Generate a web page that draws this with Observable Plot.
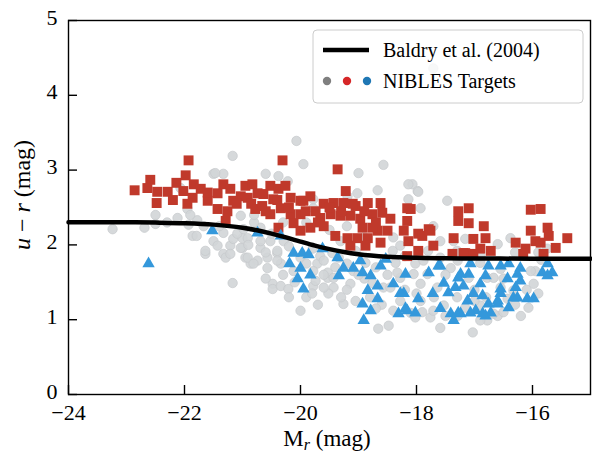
<!DOCTYPE html>
<html>
<head>
<meta charset="utf-8">
<script src="https://cdn.jsdelivr.net/npm/d3@7"></script>
<script src="https://cdn.jsdelivr.net/npm/@observablehq/plot@0.6"></script>
<style>
  html, body { margin: 0; padding: 0; background: white; }
</style>
</head>
<body>
<div id="chart"></div>
<script>
// ---- data ----
const xTicks = [-24, -22, -20, -18, -16];
const yTicks = [0, 1, 2, 3, 4, 5];

// Baldry et al. (2004) dividing line
const baldryM  = [-24, -23, -22.5, -22, -21.5, -21, -20.75, -20.5, -20.25, -20, -19.75, -19.5, -19.25, -19, -18.5, -18, -17.5, -17, -16, -15];
const baldryUR = [2.304, 2.302, 2.298, 2.290, 2.271, 2.229, 2.195, 2.151, 2.100, 2.044, 1.990, 1.943, 1.905, 1.876, 1.842, 1.827, 1.820, 1.818, 1.816, 1.816];

// all galaxies (grey circles)
const grayX = [-23.24,-22.69,-22.50,-22.50,-22.12,-21.95,-21.93,-21.86,-21.79,-21.78,-21.64,-21.50,-21.33,-21.17,-21.50,-21.43,-21.33,-21.29,-21.21,-21.17,
  -21.16,-21.00,-21.00,-20.95,-20.86,-20.74,-20.69,-20.60,-20.57,-20.57,-20.48,-20.48,-20.40,-20.34,-20.34,-20.22,-20.21,-20.12,-20.07,-19.95,
  -20.00,-19.78,-19.71,-19.78,-19.78,-22.07,-20.69,-21.03,-19.00,-18.57,-18.07,-17.98,-18.67,-19.02,-19.19,-17.47,-18.14,-17.93,-17.71,-19.78,
  -19.53,-19.43,-19.52,-19.26,-19.05,-18.66,-18.48,-17.59,-17.03,-16.78,-16.60,-16.07,-15.98,-15.95,-16.38,-16.60,-17.36,-18.40,-18.10,-17.93,
  -18.28,-18.02,-17.81,-19.66,-19.34,-19.09,-18.76,-18.57,-20.00,-19.45,-19.79,-16.55,-16.33,-16.78,-17.59,-17.29,-17.10,-17.53,-17.16,-16.90,
  -17.76,-17.29,-16.43,-16.03,-21.47,-20.38,-21.64,-21.21,-21.03,-20.91,-20.81,-20.40,-21.09,-20.91,-20.69,-20.52,-20.29,-20.40,-20.98,-21.33,
  -21.67,-18.14,-19.60,-19.74,-19.14,-19.53,-19.60,-19.43,-18.33,-18.45,-18.28,-18.41,-18.28,-17.97,-17.16,-18.02,-17.71,-16.90,-16.67,-18.05,
  -17.93,-17.88,-17.64,-17.41,-16.67,-16.55,-19.31,-19.05,-18.88,-18.36,-17.59,-16.90,-17.71,-20.80,-20.50,-20.20,-19.90,-19.60,-19.20,-18.90,
  -18.70,-18.20,-17.80,-17.30,-16.90,-16.30,-15.85,-15.75,
  -20.90,-20.60,-20.30,-20.10,-19.90,-19.70,-19.40,-19.20,-19.00,-18.80,-18.60,-18.50,-18.20,-17.90,-17.70,-17.50,-17.30,-17.00,-16.80,-16.50,
  -16.30,-16.10,-15.90,-21.40,-21.90,-22.30,
  -20.80,-20.30,-19.90,-19.50,-19.20,-18.90,-18.40,-20.60,-20.20,-19.80,-19.30,-18.70,-18.00,-17.50,-17.00,-16.50,-16.20,-15.90];
const grayY = [2.21,2.23,2.40,2.28,2.36,2.48,2.27,2.12,2.12,2.33,1.88,2.95,2.95,3.19,2.05,1.99,1.88,1.83,1.99,1.49,
  2.08,2.09,1.96,1.83,1.75,1.79,1.96,2.95,1.83,1.69,1.48,1.41,1.89,1.45,1.75,2.85,1.41,1.65,3.39,3.08,
  1.12,1.45,1.75,2.49,2.61,2.76,2.23,2.39,2.96,3.07,2.81,2.72,2.73,2.69,2.65,2.59,2.61,2.49,2.25,1.65,
  1.56,1.43,1.35,1.21,1.25,0.88,0.92,0.89,0.83,0.99,1.05,1.16,1.48,1.65,2.09,2.01,2.05,1.12,1.09,1.25,
  1.56,1.75,1.61,1.85,1.83,1.65,1.49,1.43,1.83,1.89,1.95,1.68,1.39,1.56,1.83,1.79,1.56,1.19,1.16,1.19,
  1.03,1.05,1.28,1.65,2.96,2.92,1.92,1.88,1.96,1.83,1.75,1.79,2.15,2.09,2.05,2.05,2.05,1.92,2.21,2.16,
  2.25,2.81,1.43,1.52,1.48,1.63,1.79,1.56,1.63,1.43,1.25,1.92,1.99,2.71,2.08,1.03,1.12,0.99,1.08,1.61,
  1.48,1.79,1.43,1.69,1.56,1.43,2.05,1.92,1.76,1.76,2.05,1.76,4.36,2.30,2.15,1.98,1.75,1.60,1.75,1.55,
  1.70,1.85,1.92,1.92,1.85,1.90,1.80,1.95,
  2.00,1.90,1.60,1.50,1.30,1.20,1.70,1.40,1.60,1.30,1.20,1.60,1.40,1.10,1.30,1.60,1.30,1.40,1.30,1.55,
  1.20,1.40,1.90,2.25,2.40,2.30,
  2.40,2.30,2.30,2.20,2.25,2.10,2.10,1.55,1.30,1.35,1.30,1.15,1.35,1.05,1.25,1.10,1.05,1.35];

// NIBLES targets, red sequence (red squares)
const redX = [-22.86,-22.59,-22.64,-22.47,-22.48,-22.29,-22.14,-21.98,-21.93,-22.02,-21.84,-21.72,-21.86,-21.60,-21.43,-21.33,-21.21,-21.43,-21.26,-21.16,
  -20.95,-20.83,-20.91,-20.74,-20.78,-20.64,-20.52,-20.38,-20.31,-20.47,-20.52,-20.34,-20.17,-20.00,-20.17,-20.00,-20.12,-19.91,-20.00,-20.38,
  -19.83,-19.36,-19.95,-19.60,-19.43,-19.26,-19.05,-18.84,-18.62,-19.66,-19.48,-19.31,-19.14,-18.97,-18.76,-18.59,-19.60,-19.40,-19.19,-19.02,
  -18.84,-18.67,-18.50,-19.14,-18.88,-18.62,-18.93,-18.76,-18.22,-18.10,-18.16,-17.97,-17.76,-17.71,-17.97,-18.16,-17.36,-17.28,-17.10,-17.28,
  -17.10,-17.02,-16.84,-16.81,-16.90,-16.72,-17.16,-17.38,-16.03,-15.86,-16.03,-15.74,-15.72,-15.95,-16.29,-16.12,-15.86,-15.60,-15.40,-15.81,
  -16.16,-21.03,-20.66,-20.26,-19.83,-19.74,-19.22,-21.29,-17.19,-17.02,-18.16,-17.79,-17.90,-18.14,
  -21.10,-20.85,-20.60,-20.40,-20.20,-19.70,-19.50,-19.30,-19.10,-18.90,-18.70,-18.45,-21.60,-22.20,-21.95];
const redY = [2.73,2.87,2.76,2.71,2.56,2.71,2.83,2.93,3.13,2.72,2.81,2.75,2.63,2.59,2.69,2.81,2.75,2.48,2.45,2.59,
  2.79,2.81,2.63,2.69,2.48,2.68,2.79,2.75,3.13,2.61,2.41,2.49,2.63,2.59,2.41,2.41,2.29,2.45,2.19,2.23,
  2.23,3.01,2.59,2.55,2.56,2.56,2.52,2.56,2.56,2.36,2.41,2.39,2.39,2.35,2.41,2.43,2.25,2.12,2.09,2.09,
  2.09,2.19,2.19,1.99,1.99,2.03,2.23,2.23,2.19,2.48,2.32,2.15,2.19,1.99,1.92,1.85,2.09,2.45,2.49,2.32,
  2.29,2.08,2.25,2.09,1.95,1.92,1.89,1.88,2.47,2.48,2.19,2.23,2.12,2.05,2.03,1.95,2.03,1.96,2.09,1.88,
  1.88,2.65,2.52,2.79,2.65,2.45,2.72,2.32,1.89,1.88,2.49,2.21,2.12,2.05,
  2.55,2.55,2.45,2.60,2.50,2.30,2.50,2.45,2.55,2.45,2.30,2.35,2.70,2.60,2.55];

// NIBLES targets, blue cloud (blue triangles)
const blueX = [-22.62,-21.52,-20.74,-20.34,-20.12,-19.97,-19.86,-20.19,-20.00,-19.83,-20.05,-19.95,-19.62,-19.36,-19.26,-19.34,-19.09,-18.97,-18.93,-18.79,
  -18.62,-18.53,-18.67,-18.84,-18.93,-18.67,-18.79,-18.91,-18.40,-18.22,-18.19,-18.31,-18.16,-17.79,-17.59,-17.53,-17.97,-17.72,-18.19,-18.02,
  -17.59,-17.45,-17.28,-17.33,-17.19,-17.10,-17.07,-17.41,-17.24,-17.36,-17.12,-17.02,-16.90,-16.81,-16.76,-16.86,-16.76,-16.60,-16.98,-16.81,
  -16.55,-16.41,-16.43,-16.26,-16.29,-16.55,-16.41,-16.33,-16.21,-16.21,-16.55,-16.26,-16.09,-15.98,-16.60,-15.74,-15.83,-15.66,-15.74,-16.72,
  -16.86,-17.07,-17.28,-17.62,-17.24,-18.28];
const blueY = [1.75,2.19,2.16,2.12,1.89,1.89,1.87,1.75,1.69,1.60,1.55,1.41,1.95,1.83,1.69,1.59,1.69,1.79,1.63,1.59,
  1.72,1.81,1.45,1.39,1.21,1.28,1.12,0.99,1.48,1.35,1.61,1.08,1.12,1.63,1.72,1.49,1.28,1.35,1.15,1.09,
  1.15,1.36,1.56,1.43,1.45,1.61,1.75,1.08,1.08,0.99,1.25,1.35,1.48,1.59,1.72,1.32,1.21,1.25,1.12,1.05,
  1.72,1.75,1.55,1.61,1.43,1.41,1.16,1.29,1.69,1.52,1.35,1.29,1.28,1.28,1.21,1.75,1.63,1.63,1.59,1.09,
  1.08,1.09,1.09,1.72,1.61,1.35];

// ---- tables built from the arrays ----
const gray = grayX.map((x, i) => ({x, y: grayY[i]}));
const red = redX.map((x, i) => ({x, y: redY[i]}));
const blue = blueX.map((x, i) => ({x, y: blueY[i]}));
const baldry = baldryM.map((x, i) => ({x, y: baldryUR[i]}));

const W = 592, H = 456, mL = 68, mR = 2, mT = 20, mB = 62;
const font = "'Liberation Serif', 'DejaVu Serif', serif";

const plot = Plot.plot({
  width: W, height: H,
  marginLeft: mL, marginRight: mR, marginTop: mT, marginBottom: mB,
  style: {fontFamily: font, background: "white", color: "black"},
  x: {domain: [-24, -15]},
  y: {domain: [0, 5]},
  marks: [
    Plot.dot(gray, {x: "x", y: "y", r: 4.7, fill: "#d2d5d7", fillOpacity: 0.9, stroke: "#c6c9cb", strokeWidth: 0.7}),
    Plot.dot(red, {x: "x", y: "y", symbol: "square", r: 5.6, fill: "#c0392b"}),
    Plot.dot(blue, {x: "x", y: "y", symbol: "triangle", r: 4.6, fill: "#3498db"}),
    Plot.line(baldry, {x: "x", y: "y", stroke: "black", strokeWidth: 4.5, curve: "monotone-x"}),
    Plot.frame({stroke: "black", strokeWidth: 1.4}),
    Plot.tickX(xTicks, {x: d => d, insetTop: H - mT - mB - 9, stroke: "black", strokeWidth: 1.4}),
    Plot.tickY(yTicks, {y: d => d, insetRight: W - mL - mR - 9, stroke: "black", strokeWidth: 1.4}),
    Plot.axisX({ticks: xTicks, tickSize: 0, tickPadding: 10, fontSize: 22, label: null}),
    Plot.axisY({ticks: yTicks, tickSize: 0, tickPadding: 11, fontSize: 22, dy: -3, label: null, tickFormat: d3.format("d")})
  ]
});

const svg = d3.select(plot);

// x-axis label: M_r (mag)
const xl = svg.append("text")
  .attr("x", mL + (W - mL - mR) / 2 - 2).attr("y", 446)
  .attr("text-anchor", "middle")
  .attr("font-family", font).attr("font-size", 23).attr("fill", "black");
xl.append("tspan").text("M");
xl.append("tspan").attr("font-style", "italic").attr("font-size", 16).attr("dy", 4).text("r");
xl.append("tspan").attr("dy", -4).text(" (mag)");

// y-axis label: u − r (mag)
const yl = svg.append("text")
  .attr("transform", `translate(30,${(mT + H - mB) / 2 - 12}) rotate(-90)`)
  .attr("text-anchor", "middle")
  .attr("font-family", font).attr("font-size", 24).attr("fill", "black");
yl.append("tspan").attr("font-style", "italic").text("u");
yl.append("tspan").text(" − ");
yl.append("tspan").attr("font-style", "italic").text("r");
yl.append("tspan").text(" (mag)");

// legend
const lg = svg.append("g").attr("text-anchor", "start");
lg.append("rect")
  .attr("x", 313).attr("y", 30).attr("width", 270).attr("height", 73)
  .attr("rx", 4).attr("ry", 4)
  .attr("fill", "white").attr("fill-opacity", 0.8)
  .attr("stroke", "#cccccc").attr("stroke-width", 1);
lg.append("line")
  .attr("x1", 323).attr("x2", 369).attr("y1", 50).attr("y2", 50)
  .attr("stroke", "black").attr("stroke-width", 4.5);
lg.append("text").attr("x", 383).attr("y", 57)
  .attr("text-anchor", "start")
  .attr("font-family", font).attr("font-size", 20).attr("fill", "black")
  .text("Baldry et al. (2004)");
const legendDots = ["#7f7f7f", "#d62728", "#1f77b4"];
legendDots.forEach((c, i) => {
  lg.append("circle").attr("cx", 327 + i * 20).attr("cy", 81).attr("r", 4.2).attr("fill", c);
});
lg.append("text").attr("x", 383).attr("y", 88)
  .attr("text-anchor", "start")
  .attr("font-family", font).attr("font-size", 20).attr("fill", "black")
  .text("NIBLES Targets");

document.getElementById("chart").appendChild(plot);
</script>
</body>
</html>
